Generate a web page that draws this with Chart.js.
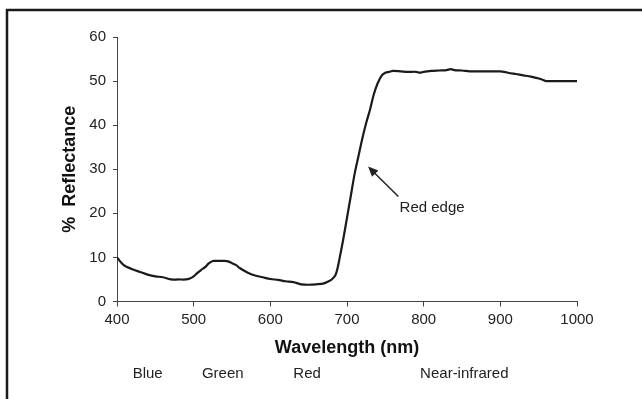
<!DOCTYPE html>
<html>
<head>
<meta charset="utf-8">
<script src="https://cdn.jsdelivr.net/npm/chart.js@4.4.1/dist/chart.umd.min.js"></script>
<style>
  html, body { margin: 0; padding: 0; background: #fff; }
  #wrap { width: 642px; height: 399px; position: relative; }
</style>
</head>
<body>
<div id="wrap"><canvas id="c" width="642" height="399"></canvas></div>
<script>
// ---- data ----
const wavelengths = [400,405,410,420,430,440,450,460,470,480,490,495,500,505,510,515,520,525,530,540,545,550,555,560,570,580,590,600,610,620,630,640,650,660,670,675,680,685,688,690,695,700,705,710,715,720,725,730,735,740,745,750,755,760,770,780,790,795,800,810,820,830,835,840,850,860,870,880,890,900,905,910,920,930,940,950,955,960,970,980,990,1000];
const reflectance = [10.0,8.9,8.1,7.3,6.7,6.1,5.7,5.5,5.0,5.0,5.0,5.2,5.7,6.5,7.2,7.8,8.7,9.2,9.2,9.2,9.1,8.7,8.3,7.6,6.6,5.9,5.5,5.1,4.9,4.6,4.4,3.9,3.8,3.9,4.1,4.5,5.0,6.0,7.8,9.5,14,19,24,29,33,37,40.5,43.5,47,49.5,51.2,51.9,52.1,52.3,52.2,52.1,52.1,51.9,52.1,52.3,52.4,52.5,52.7,52.5,52.4,52.2,52.2,52.2,52.2,52.2,52.1,51.9,51.6,51.3,51.0,50.6,50.3,50.0,50.0,50.0,50.0,50.0];
const xTicks = [400,500,600,700,800,900,1000];
const yTicks = [0,10,20,30,40,50,60];
const bandLabels = ['Blue','Green','Red','Near-infrared'];
const bandCenters = [440,538,648,853];
const annotationText = 'Red edge';
const annotationTextAt = [811, 21.2];
const arrowTail = [767, 23.8];
const arrowTip = [727.5, 30.6];

const points = wavelengths.map((w, i) => ({x: w, y: reflectance[i]}));
const FONT = '"Liberation Sans", Arial, sans-serif';
const TXT = '#222';

const extras = {
  id: 'extras',
  beforeDraw(chart) {
    const ctx = chart.ctx;
    ctx.save();
    ctx.fillStyle = '#fff';
    ctx.fillRect(0, 0, chart.width, chart.height);
    ctx.strokeStyle = '#1a1a1a';
    ctx.lineWidth = 2.5;
    ctx.strokeRect(7, 10, 800, 600);
    ctx.restore();
  },
  afterDraw(chart) {
    const ctx = chart.ctx;
    const xs = chart.scales.x, ys = chart.scales.y;
    ctx.save();
    // band labels
    ctx.fillStyle = TXT;
    ctx.font = '15px ' + FONT;
    ctx.textAlign = 'center';
    ctx.textBaseline = 'middle';
    bandLabels.forEach((t, i) => {
      ctx.fillText(t, xs.getPixelForValue(bandCenters[i]), 374);
    });
    // annotation text
    ctx.fillText(annotationText, xs.getPixelForValue(annotationTextAt[0]), ys.getPixelForValue(annotationTextAt[1]));
    // arrow
    const x1 = xs.getPixelForValue(arrowTail[0]), y1 = ys.getPixelForValue(arrowTail[1]);
    const x2 = xs.getPixelForValue(arrowTip[0]), y2 = ys.getPixelForValue(arrowTip[1]);
    const ang = Math.atan2(y2 - y1, x2 - x1);
    const hl = 10, hw = 4.5;
    ctx.strokeStyle = '#222';
    ctx.lineWidth = 1.5;
    ctx.beginPath();
    ctx.moveTo(x1, y1);
    ctx.lineTo(x2 - Math.cos(ang) * hl * 0.8, y2 - Math.sin(ang) * hl * 0.8);
    ctx.stroke();
    ctx.fillStyle = '#222';
    ctx.beginPath();
    ctx.moveTo(x2, y2);
    ctx.lineTo(x2 - Math.cos(ang) * hl - Math.sin(ang) * hw, y2 - Math.sin(ang) * hl + Math.cos(ang) * hw);
    ctx.lineTo(x2 - Math.cos(ang) * hl + Math.sin(ang) * hw, y2 - Math.sin(ang) * hl - Math.cos(ang) * hw);
    ctx.closePath();
    ctx.fill();
    ctx.restore();
  }
};

new Chart(document.getElementById('c'), {
  type: 'line',
  data: {
    datasets: [{
      data: points,
      borderColor: '#1a1a1a',
      borderWidth: 2.2,
      pointRadius: 0,
      tension: 0.3,
      fill: false
    }]
  },
  options: {
    responsive: false,
    animation: false,
    devicePixelRatio: 1,
    layout: { padding: { left: 0, right: 65, top: 37, bottom: 0 } },
    plugins: { legend: { display: false }, tooltip: { enabled: false } },
    scales: {
      x: {
        type: 'linear',
        min: 400, max: 1000,
        afterBuildTicks(s) { s.ticks = xTicks.map(v => ({value: v})); },
        afterFit(s) { s.height = 97.5; },
        grid: { display: true, drawOnChartArea: false, drawTicks: true, tickLength: 5, color: '#444', lineWidth: 1 },
        border: { display: true, color: '#444', width: 1 },
        ticks: { font: { family: FONT, size: 15 }, color: TXT, padding: 4, maxRotation: 0, callback: v => String(v) },
        title: { display: true, text: 'Wavelength (nm)', font: { family: FONT, size: 18, weight: 'bold' }, color: '#111', padding: { top: 0, bottom: 40 } }
      },
      y: {
        min: 0, max: 60,
        afterBuildTicks(s) { s.ticks = yTicks.map(v => ({value: v})); },
        afterFit(s) { s.width = 117; },
        grid: { display: true, drawOnChartArea: false, drawTicks: true, tickLength: 4, color: '#444', lineWidth: 1 },
        border: { display: true, color: '#444', width: 1 },
        ticks: { font: { family: FONT, size: 15 }, color: TXT, padding: 7, callback: v => String(v) },
        title: { display: true, text: '%  Reflectance', font: { family: FONT, size: 18, weight: 'bold' }, color: '#111', padding: { top: 59, bottom: 0 } }
      }
    }
  },
  plugins: [extras]
});
</script>
</body>
</html>
